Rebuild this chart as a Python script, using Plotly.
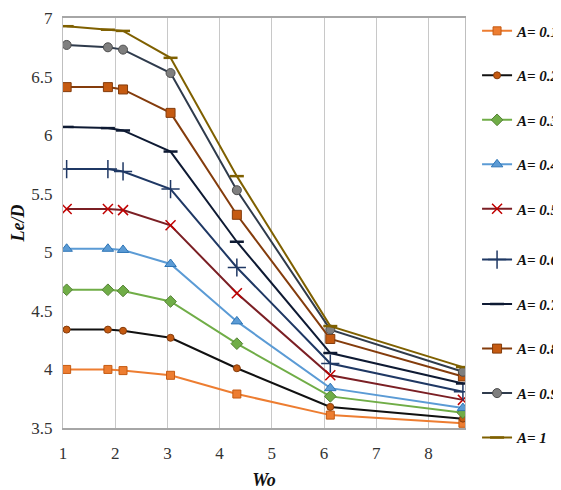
import plotly.graph_objects as go

wo = [1.07, 1.86, 2.15, 3.06, 4.33, 6.12, 8.66]

a_015 = [4.00, 4.00, 3.99, 3.95, 3.79, 3.61, 3.54]
a_025 = [4.34, 4.34, 4.33, 4.27, 4.01, 3.68, 3.58]
a_035 = [4.68, 4.68, 4.67, 4.58, 4.22, 3.77, 3.63]
a_045 = [5.03, 5.03, 5.02, 4.90, 4.41, 3.84, 3.67]
a_055 = [5.37, 5.37, 5.36, 5.23, 4.65, 3.95, 3.74]
a_065 = [5.71, 5.71, 5.69, 5.54, 4.87, 4.05, 3.81]
a_075 = [6.07, 6.06, 6.04, 5.86, 5.09, 4.14, 3.88]
a_085 = [6.41, 6.41, 6.39, 6.19, 5.32, 4.26, 3.94]
a_095 = [6.77, 6.75, 6.73, 6.53, 5.53, 4.34, 3.98]
a_100 = [6.93, 6.90, 6.89, 6.66, 5.65, 4.37, 4.02]

names = ["A= 0.15", "A= 0.25", "A= 0.35", "A= 0.45", "A= 0.55",
         "A= 0.65", "A= 0.75", "A= 0.85", "A= 0.95", "A= 1"]
series = [a_015, a_025, a_035, a_045, a_055, a_065, a_075, a_085, a_095, a_100]

styles = [
    dict(line="#ED7D31", sym="square", mc="#ED7D31", ml="#C55A11", size=8, lw=1),
    dict(line="#111111", sym="circle", mc="#C55A11", ml="#843C0C", size=7, lw=1),
    dict(line="#70AD47", sym="diamond", mc="#70AD47", ml="#548235", size=9, lw=1),
    dict(line="#5B9BD5", sym="triangle-up", mc="#5B9BD5", ml="#2E75B6", size=10, lw=1),
    dict(line="#7B1F24", sym="x-thin", mc="#7B1F24", ml="#C00000", size=10, lw=1.5),
    dict(line="#1F3864", sym="cross-thin", mc="#1F3864", ml="#1F3864", size=13, lw=1.5),
    dict(line="#0E1A33", sym="line-ew", mc="#0E1A33", ml="#0E1A33", size=10, lw=2.5),
    dict(line="#843C0C", sym="square", mc="#C55A11", ml="#843C0C", size=9, lw=1),
    dict(line="#2F3B4C", sym="circle", mc="#7F7F7F", ml="#4D4D4D", size=9, lw=1),
    dict(line="#7F6000", sym="line-ew", mc="#7F6000", ml="#7F6000", size=10, lw=2.5),
]

SERIF = "Liberation Serif, Times New Roman, DejaVu Serif, serif"

fig = go.Figure()
for i, (nm, ys, st) in enumerate(zip(names, series, styles)):
    fig.add_trace(go.Scatter(
        x=wo, y=ys, name=nm, mode="lines+markers", legendgroup=nm,
        legend="legend" if i < 5 else "legend2",
        line=dict(color=st["line"], width=2),
        marker=dict(symbol=st["sym"], size=st["size"], color=st["mc"],
                    line=dict(color=st["ml"], width=st["lw"])),
    ))

leg_common = dict(
    x=1.03, xanchor="left", yanchor="middle",
    tracegroupgap=22, itemwidth=30,
    font=dict(family=SERIF, size=15, color="#111111", weight="bold", style="italic"),
    bgcolor="rgba(0,0,0,0)",
)

# page body has an 8px default margin, so the figure is sized to fit the window
fig.update_layout(
    width=553, height=482,
    margin=dict(l=55, r=96, t=10, b=62, autoexpand=False),
    paper_bgcolor="white", plot_bgcolor="white",
    font=dict(family=SERIF, size=14, color="#333333"),
    legend=dict(y=0.751, **leg_common),
    legend2=dict(y=0.193, **leg_common),
    xaxis=dict(
        range=[1, 8.7], tickvals=[1, 2, 3, 4, 5, 6, 7, 8],
        automargin=True,
        showgrid=True, gridcolor="#C8C8C8", gridwidth=1,
        showline=True, linecolor="#A6A6A6", linewidth=1.5, mirror=True,
        zeroline=False, ticks="", ticklabelstandoff=9,
        tickfont=dict(family=SERIF, size=17, color="#333333"),
        title=dict(text="Wo", font=dict(family=SERIF, size=18, weight="bold", style="italic", color="#111111"),
                   standoff=12),
    ),
    yaxis=dict(
        range=[3.5, 7], tickvals=[3.5, 4, 4.5, 5, 5.5, 6, 6.5, 7],
        ticktext=["3.5", "4", "4.5", "5", "5.5", "6", "6.5", "7"],
        automargin=False,
        showgrid=False,
        showline=True, linecolor="#BFBFBF", linewidth=1, mirror=True,
        zeroline=False, ticks="", ticklabelstandoff=6,
        tickfont=dict(family=SERIF, size=17, color="#333333"),
        title=dict(text="Le/D", font=dict(family=SERIF, size=18, weight="bold", style="italic", color="#111111"),
                   standoff=14),
    ),
)

fig.write_html("out.html")
